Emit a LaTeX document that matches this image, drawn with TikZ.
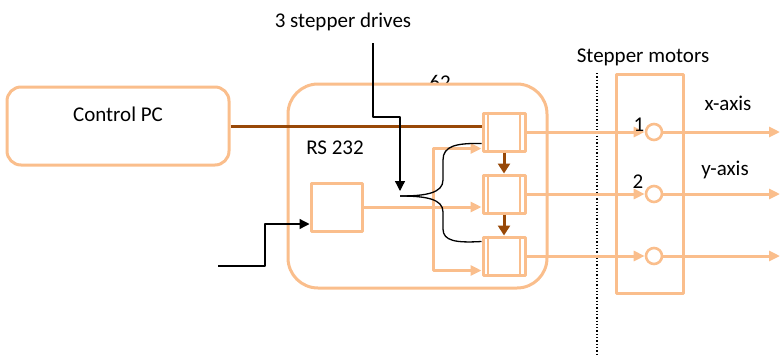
\documentclass[tikz,border=0pt]{standalone}
\usepackage{fontspec}
\setmainfont{Carlito}
\usetikzlibrary{arrows.meta,calc}
\definecolor{peach}{RGB}{250,190,140}
\definecolor{umber}{RGB}{152,72,7}

\begin{document}
\begin{tikzpicture}[x=1pt,y=-1pt,line join=round,
  lbl/.style={font=\fontsize{21}{25}\selectfont,inner sep=0pt},
  pline/.style={peach,line width=3pt},
  parr/.style={pline,-{Triangle[length=11pt,width=10pt]}},
  blk/.style={black,line width=1.3pt},
  barr/.style={blk,-{Triangle[length=10pt,width=10pt]}},
  uarr/.style={umber,line width=3pt,-{Triangle[length=10pt,width=12pt]}},
  drive/.style={draw=peach,line width=3pt,minimum width=42pt,minimum height=38pt,inner sep=0pt},
  motor/.style={circle,draw=peach,line width=2.6pt,fill=white,minimum size=16pt,inner sep=0pt}]
  \useasboundingbox (0,0) rectangle (781,354);
  \node[lbl] (t62) at (440,82) {62};
  \node[draw=peach,line width=3pt,fill=white,rounded corners=30pt,minimum width=259pt,minimum height=204pt] (board) at (417.5,186) {};
  \node[draw=peach,line width=3pt,rounded corners=14pt,minimum width=222pt,minimum height=78pt] (pc) at (118,126) {};
  \node[lbl] (pctxt) at (118,114) {Control PC};
  \node[draw=peach,line width=3pt,minimum width=51pt,minimum height=48pt] (sbox) at (336.5,207) {};
  \node[draw=peach,line width=3pt,minimum width=67pt,minimum height=219pt] (mbox) at (649.5,183.5) {};
  \draw[black,dotted,line width=1.3pt] (597,73) coordinate (dt) -- (597,354) coordinate (db);
  % drives and motors
  \foreach \n/\y in {1/132,2/194,3/256} {
    \node[drive] (d\n) at (504,\y) {};
    \draw[pline,line width=2.4pt] ([xshift=6.5pt]d\n.north west) -- ([xshift=6.5pt]d\n.south west);
    \draw[pline,line width=2.4pt] ([xshift=-6.5pt]d\n.north east) -- ([xshift=-6.5pt]d\n.south east);
    \node[motor] (m\n) at (654,\y) {};
    \coordinate (o\n) at (780,\y);
    \draw[parr] (d\n.east) -- (m\n.west);
    \draw[parr] (m\n.east) -- (o\n);
  }
  \draw[uarr] (d1.south) -- (d2.north);
  \draw[uarr] (d2.south) -- (d3.north);
  \draw[umber,line width=3pt] (pc.east) -- (pc.east -| d1.west);
  % orange feed from the small box
  \coordinate (sp) at (433,207);
  \draw[parr] (sbox.east) -- (sbox.east -| d2.west);
  \draw[parr] (sp) |- ([yshift=4pt]d1.south west);
  \draw[parr] (sp) |- ([yshift=6pt]d3.south west);
  % black lines
  \node[lbl] (tdrv) at (343,22) {3 stepper drives};
  \coordinate (k0) at (373,43); \coordinate (bt) at (400,196); \coordinate (in) at (218,266);
  \draw[barr] (k0) -- (373,117) -| ([yshift=5pt]bt);
  \draw[blk] (bt) .. controls (426,196) and (443,193) .. (443,180) -- (443,160) .. controls (443,146) and (456,143) .. ([yshift=9pt]d1.south west);
  \draw[blk] (bt) .. controls (426,196) and (443,199) .. (443,212) -- (443,229) .. controls (443,241) and (456,243) .. ([yshift=-6pt]d3.north west);
  \draw[barr] (in) -- ++(47,0) |- ([yshift=-17pt]sbox.west);
  \node[lbl] (trs) at (335,148) {RS 232};
  \node[lbl] (tsm) at (643,57) {Stepper motors};
  \node[lbl] (tx) at (728,103) {x-axis};
  \node[lbl] (ty) at (725,170) {y-axis};
  \node[lbl] (n1) at (639,125) {1};
  \node[lbl] (n2) at (638,182) {2};
\end{tikzpicture}
\end{document}
